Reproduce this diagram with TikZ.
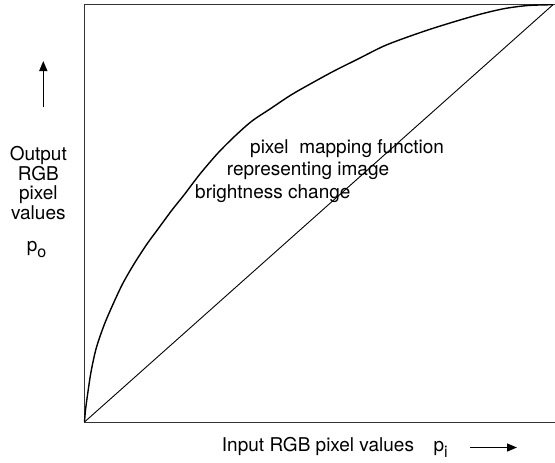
\documentclass[tikz,border=0pt]{standalone}
\usepackage{fontspec}
\setmainfont{TeX Gyre Heros}
\usetikzlibrary{arrows.meta}
\begin{document}
\begin{tikzpicture}[x=1pt,y=-1pt,
  lbl/.style={inner sep=0pt,font=\fontsize{19}{19.5}\selectfont},
  frame/.style={draw=black!80,line width=1pt},
  axisarrow/.style={line width=1.4pt,-{Triangle[length=10pt,width=8pt]}},
  curve/.style={line width=1.4pt},
  diag/.style={line width=0.9pt}]
\useasboundingbox (0,0) rectangle (555,463);
% frame
\coordinate (bl) at (84.5,422);
\coordinate (tl) at (84.5,4.5);
\coordinate (tr) at (553,4.7);
\coordinate (br) at (556,422);
\coordinate (trx) at (556,4.5);
\draw[frame] (trx) -- (tl) -- (bl) -- (br);
% diagonal
\draw[diag] (bl) -- (tr);
% mapping curve
\draw[curve] plot[smooth,tension=0.5] coordinates {
 (84.5,422) (85.5,410) (87.5,395) (91,372) (96,349) (103,328) (110,311)
 (122,285) (134,264) (147,244) (158,229) (172,210) (184,195) (200,174)
 (218,153) (235,136) (252,121) (270,109) (291,95) (312,83) (334,71)
 (358,59) (384,46) (409,36.5) (434,28) (460,20) (483,13.5) (505,8.5)
 (528,5.5) (553,4.7)};
% curve label
\node[lbl,anchor=base west] (t1) at (250,153.3) {pixel\ \ mapping function};
\node[lbl,anchor=base west] (t2) at (226.7,175.3) {representing image};
\node[lbl,anchor=base west] (t3) at (195,198.3) {brightness change};
% y axis label
\node[lbl,anchor=base] (o1) at (38.3,160.5) {Output};
\node[lbl,anchor=base] (o2) at (38.3,180) {RGB};
\node[lbl,anchor=base] (o3) at (38.3,199.5) {pixel};
\node[lbl,anchor=base] (o4) at (38.3,219) {values};
\node[lbl,anchor=base] (po) at (36.5,251.7) {p\raisebox{-6pt}{\fontsize{16}{16}\selectfont o}};
\coordinate (ua) at (43.3,107);
\coordinate (ub) at (43.3,61);
\draw[axisarrow] (ua) -- (ub);
% x axis label
\node[lbl,anchor=base west] (in) at (221.7,451.7) {Input RGB pixel values};
\node[lbl,anchor=base west] (pi) at (433.3,451.7) {p\raisebox{-6pt}{\fontsize{16}{16}\selectfont i}};
\coordinate (ra) at (470,447.5);
\coordinate (rb) at (517,447.5);
\draw[axisarrow] (ra) -- (rb);
\end{tikzpicture}
\end{document}
